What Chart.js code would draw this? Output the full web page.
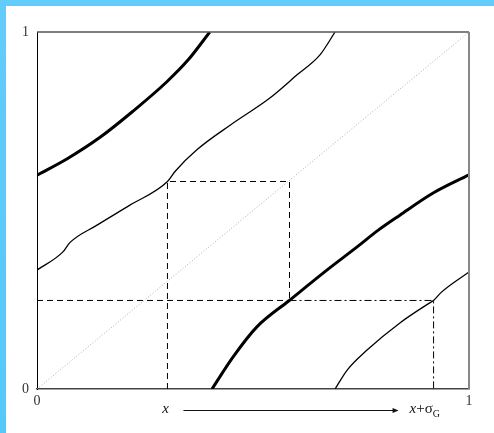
<!DOCTYPE html>
<html>
<head>
<meta charset="utf-8">
<script src="https://cdn.jsdelivr.net/npm/chart.js@4.4.1/dist/chart.umd.min.js"></script>
<style>
  html, body { margin: 0; padding: 0; }
  body { width: 494px; height: 433px; background: linear-gradient(180deg, #63ccfb 0%, #55c8fa 100%); position: relative; overflow: hidden; }
  #wrap { position: absolute; left: 6px; top: 6px; width: 488px; height: 427px; background: #fff; }
</style>
</head>
<body>
<div id="wrap"><canvas id="myChart" width="488" height="427"></canvas></div>
<script>
const ctx = document.getElementById('myChart').getContext('2d');

// curvas
const curveA_x = [0, 0.070, 0.146, 0.222, 0.300, 0.350, 0.400];
const curveA_y = [0.599, 0.645, 0.705, 0.778, 0.860, 0.922, 1.0];

const curveB_x = [0, 0.060, 0.076, 0.139, 0.215, 0.302, 0.320, 0.370, 0.447, 0.539, 0.602, 0.655, 0.690];
const curveB_y = [0.333, 0.384, 0.410, 0.459, 0.515, 0.581, 0.610, 0.670, 0.739, 0.815, 0.880, 0.936, 1.0];

const curveC_x = [0.405, 0.454, 0.509, 0.584, 0.671, 0.741, 0.790, 0.840, 0.917, 1.0];
const curveC_y = [0, 0.090, 0.174, 0.248, 0.333, 0.398, 0.445, 0.487, 0.549, 0.6];

const curveD_x = [0.690, 0.718, 0.764, 0.840, 0.910, 0.918, 0.935, 1.0];
const curveD_y = [0, 0.053, 0.109, 0.185, 0.242, 0.248, 0.270, 0.328];

// linhas de referencia
const xPos = 0.302;      // x
const xShift = 0.918;    // x + sigma_G
const xCorner = 0.5845;
const yCorner = 0.5812;
const yLevel = 0.248;
const axisTicks = [0, 1];

const pts = (xs, ys) => xs.map((v, i) => ({ x: v, y: ys[i] }));
const serif = "'Liberation Serif', 'Times New Roman', Times, serif";

const frame = {
    id: 'frame',
    afterDraw(chart) {
        const { ctx, chartArea: a, scales } = chart;
        ctx.save();
        // topo e lado direito da caixa
        ctx.strokeStyle = '#555';
        ctx.lineWidth = 1.5;
        ctx.beginPath();
        ctx.moveTo(a.left, a.top);
        ctx.lineTo(a.right, a.top);
        ctx.stroke();
        ctx.strokeStyle = '#888';
        ctx.lineWidth = 2;
        ctx.beginPath();
        ctx.moveTo(a.right, a.top);
        ctx.lineTo(a.right, a.bottom);
        ctx.stroke();

        // rotulos x  ---->  x+sigma_G
        const px1 = scales.x.getPixelForValue(xPos);
        const px2 = scales.x.getPixelForValue(xShift);
        const ty = a.bottom + 20;
        ctx.fillStyle = '#111';
        ctx.textBaseline = 'middle';
        ctx.textAlign = 'center';
        ctx.font = 'italic 15px ' + serif;
        ctx.fillText('x', px1 - 2, ty);

        ctx.strokeStyle = '#111';
        ctx.lineWidth = 1;
        ctx.beginPath();
        ctx.moveTo(px1 + 16, ty + 1.5);
        ctx.lineTo(px2 - 39, ty + 1.5);
        ctx.stroke();
        ctx.beginPath();
        ctx.moveTo(px2 - 35, ty + 1.5);
        ctx.lineTo(px2 - 41, ty - 1);
        ctx.lineTo(px2 - 41, ty + 4);
        ctx.closePath();
        ctx.fill();

        ctx.textAlign = 'left';
        let cx = px2 - 24;
        ctx.font = 'italic 15px ' + serif;
        ctx.fillText('x', cx, ty);
        cx += ctx.measureText('x').width;
        ctx.font = '15px ' + serif;
        ctx.fillText('+σ', cx, ty);
        cx += ctx.measureText('+σ').width;
        ctx.font = '10px ' + serif;
        ctx.fillText('G', cx, ty + 5);
        ctx.restore();
    }
};

const curve = (xs, ys, w) => ({
    data: pts(xs, ys), borderColor: '#000', borderWidth: w, cubicInterpolationMode: 'monotone'
});

const data = {
    datasets: [
        { data: pts([0, 1], [0, 1]), borderColor: '#aaa', borderWidth: 1, borderDash: [1, 2] },
        curve(curveA_x, curveA_y, 3),
        curve(curveB_x, curveB_y, 1.3),
        curve(curveC_x, curveC_y, 3),
        curve(curveD_x, curveD_y, 1.3),
        // caixa tracejada
        { data: pts([xPos, xPos, xCorner, xCorner], [0, yCorner, yCorner, yLevel]), borderColor: '#000', borderWidth: 1, borderDash: [6, 4] },
        { data: pts([0, xCorner], [yLevel, yLevel]), borderColor: '#000', borderWidth: 1, borderDash: [6, 4] },
        // traco-ponto
        { data: pts([xCorner, xShift, xShift], [yLevel, yLevel, 0]), borderColor: '#000', borderWidth: 1, borderDash: [7, 3, 2, 3] }
    ]
};

const tickFont = { family: serif, size: 14 };

const myChart = new Chart(ctx, {
    type: 'line',
    data: data,
    plugins: [frame],
    options: {
        responsive: false,
        animation: false,
        devicePixelRatio: 1,
        layout: { padding: { top: 26, right: 25, left: 0, bottom: 0 } },
        elements: { point: { radius: 0 } },
        plugins: { legend: { display: false }, tooltip: { enabled: false } },
        scales: {
            x: {
                type: 'linear', min: 0, max: 1,
                afterFit: s => { s.height = 44; },
                afterBuildTicks: s => { s.ticks = axisTicks.map(v => ({ value: v })); },
                grid: { display: false, drawTicks: false },
                border: { display: true, color: '#444', width: 1.5 },
                ticks: { color: '#333', font: tickFont, padding: 4, maxRotation: 0 }
            },
            y: {
                type: 'linear', min: 0, max: 1,
                afterFit: s => { s.width = 31; },
                afterBuildTicks: s => { s.ticks = axisTicks.map(v => ({ value: v })); },
                grid: { display: false, drawTicks: false },
                border: { display: true, color: '#000', width: 1 },
                ticks: { color: '#333', font: tickFont, padding: 8 }
            }
        }
    }
});
</script>
</body>
</html>
